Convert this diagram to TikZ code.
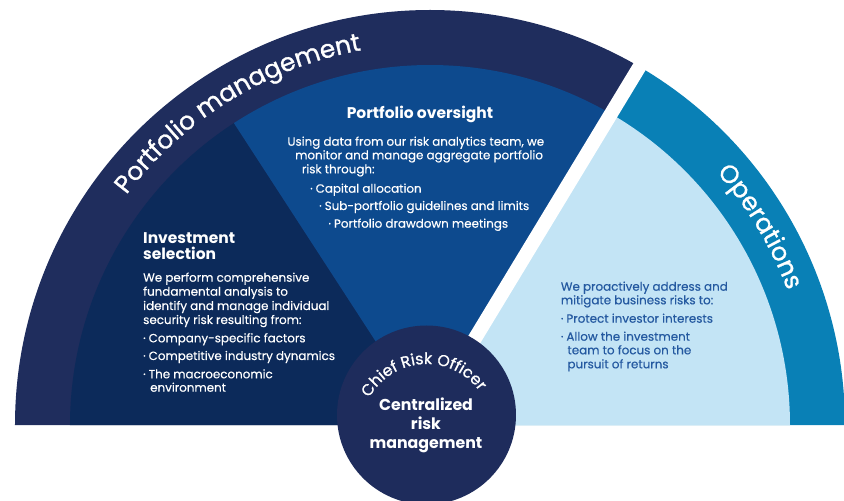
\documentclass[tikz,border=0pt]{standalone}
\usepackage{fontspec}
\setmainfont{Poppins}
\newfontfamily\medfont{Poppins}[FakeBold=1]
\newfontfamily\bodyfam{Poppins}[FakeBold=0.4]
\usetikzlibrary{decorations.text,calc}
\definecolor{pmband}{HTML}{1F2D5D}
\definecolor{invest}{HTML}{0C2A5A}
\definecolor{oversee}{HTML}{0D4A8E}
\definecolor{opband}{HTML}{0980B6}
\definecolor{oplight}{HTML}{C3E4F5}
\definecolor{crocol}{HTML}{1E2C5C}
\definecolor{optext}{HTML}{2459A0}
\newcommand{\bodyfont}{\bodyfam\fontsize{11.9}{11.9}\selectfont}
\newcommand{\titlefont}{\fontsize{15.5}{15.5}\selectfont\bfseries}
\newcommand{\bul}{·\hspace{3pt}}
\tikzset{
  body/.style={anchor=base west, inner sep=0pt, text=white, font=\bodyfont},
  opbody/.style={anchor=base west, inner sep=0pt, text=optext, font=\bodyfont},
  ttl/.style={anchor=base west, inner sep=0pt, text=white, font=\titlefont},
  ctr/.style={anchor=base, inner sep=0pt, text=white, font=\fontsize{15.8}{15.8}\selectfont\bfseries},
}
\begin{document}
\begin{tikzpicture}[x=1pt,y=1pt]
\useasboundingbox (-430,-76) rectangle (414,425);
% outer bands
\fill[pmband] (0,0) -- (180:415) arc[start angle=180,end angle=58.9,radius=415] -- cycle;
\fill[opband] (0,0) -- (58.9:415) arc[start angle=58.9,end angle=0,radius=415] -- cycle;
% inner wedges
\fill[invest] (0,0) -- (180:360) arc[start angle=180,end angle=123,radius=360] -- cycle;
\fill[oversee] (0,0) -- (123:360) arc[start angle=123,end angle=58.9,radius=360] -- cycle;
\fill[oplight] (0,0) -- (58.9:360) arc[start angle=58.9,end angle=0,radius=360] -- cycle;
% white gap
\coordinate (g0) at (-7.5,0);
\coordinate (g1) at (216,369);
\draw[white, line width=14pt] (g0) -- (g1);
% curved band titles
\path[decorate, decoration={text along path, text align=center, text color=white,
  text={|\medfont\fontsize{25}{25}\selectfont|Portfolio management}}]
  (171.6:381) arc[start angle=171.6,end angle=71.6,radius=381];
\path[decorate, decoration={text along path, text align=center, text color=white,
  text={|\medfont\fontsize{25}{25}\selectfont|Operations}}]
  (61:382) arc[start angle=61,end angle=1,radius=382];
% Investment selection
\node[ttl] (is1) at (-287,181.7) {Investment};
\node[ttl] (is2) at (-287,165.7) {selection};
\node[body] (ib1) at (-287,143.3) {We perform comprehensive};
\node[body] (ib2) at (-287,129.3) {fundamental analysis to};
\node[body] (ib3) at (-287,115) {identify and manage individual};
\node[body] (ib4) at (-287,101) {security risk resulting from:};
\node[body] (ib5) at (-287,82.7) {\bul Company-specific factors};
\node[body] (ib6) at (-287,65) {\bul Competitive industry dynamics};
\node[body] (ib7) at (-287,46.7) {\bul The macroeconomic};
\node[body] (ib8) at (-280,33.3) {environment};
% Portfolio oversight
\node[ttl, anchor=base] (po0) at (-10,306.7) {Portfolio oversight};
\node[body] (po1) at (-142.7,279.3) {Using data from our risk analytics team, we};
\node[body] (po2) at (-135,265.7) {monitor and manage aggregate portfolio};
\node[body] (po3) at (-128.3,251.7) {risk through:};
\node[body] (po4) at (-120,232.3) {\bul Capital allocation};
\node[body] (po5) at (-111,215) {\bul Sub-portfolio guidelines and limits};
\node[body] (po6) at (-101.7,197.3) {\bul Portfolio drawdown meetings};
% Operations
\node[opbody] (op1) at (130.7,134.3) {We proactively address and};
\node[opbody] (op2) at (130.7,120.7) {mitigate business risks to:};
\node[opbody] (op3) at (130.7,102.3) {\bul Protect investor interests};
\node[opbody] (op4) at (130.7,84.3) {\bul Allow the investment};
\node[opbody] (op5) at (137.3,70.7) {team to focus on the};
\node[opbody] (op6) at (137.3,56.7) {pursuit of returns};
% centre circle
\node[circle, fill=crocol, minimum size=179pt, inner sep=0pt] (cro) at (-3.5,10) {};
\coordinate (croc) at (-3.5,-4);
\path[decorate, decoration={text along path, text align=center, text color=white,
  text={|\medfont\fontsize{15.8}{15.8}\selectfont|Chief Risk Officer}}]
  ($(croc)+(173.5:65)$) arc[start angle=173.5,end angle=13.5,radius=65];
\node[ctr] (c1) at (-4,14.3) {Centralized};
\node[ctr] (c2) at (-4,-4.3) {risk};
\node[ctr] (c3) at (-4,-23.3) {management};
\end{tikzpicture}
\end{document}
